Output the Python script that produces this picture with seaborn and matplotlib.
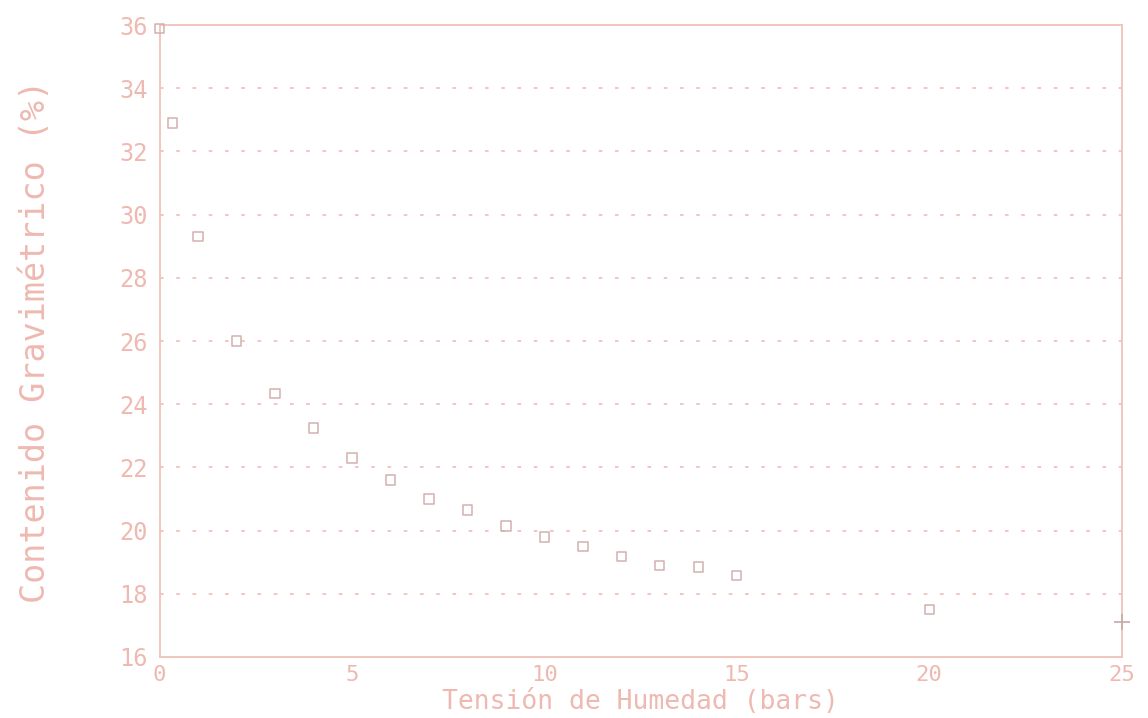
import matplotlib

matplotlib.use("Agg")
import matplotlib.pyplot as plt
import pandas as pd
import seaborn as sns

# values
tension = [0, 0.33, 1, 2, 3, 4, 5, 6, 7, 8, 9, 10, 11, 12, 13, 14, 15, 20]
contenido = [35.9, 32.9, 29.3, 26.0, 24.35, 23.25, 22.3, 21.6, 21.0, 20.65,
             20.15, 19.8, 19.5, 19.17, 18.9, 18.85, 18.57, 17.5]
cruz_x = [25]
cruz_y = [17.1]

x_ticks = [0, 5, 10, 15, 20, 25]
y_ticks = [16, 18, 20, 22, 24, 26, 28, 30, 32, 34, 36]

ink = "#eeb9b1"
grid_ink = "#efc3b8"
mark_ink = "#d2b0ae"

sns.set_style("white")
plt.rcParams["font.family"] = ["DejaVu Sans Mono", "DejaVu Sans"]

df = pd.DataFrame({"tension": tension, "contenido": contenido})

fig = plt.figure(figsize=(11.48, 7.18), dpi=100)
ax = fig.add_axes([0.139, 0.085, 0.838, 0.88])

for y in y_ticks[1:-1]:
    ax.axhline(y, color=grid_ink, lw=1.3, linestyle=(0, (2, 7)), zorder=1)

sns.scatterplot(
    data=df,
    x="tension",
    y="contenido",
    marker="s",
    s=45,
    facecolor="none",
    edgecolor=mark_ink,
    linewidth=1.1,
    ax=ax,
    zorder=3,
    clip_on=False,
)
ax.scatter(cruz_x, cruz_y, marker="+", s=140, color="#c4aaa8", lw=1.2,
           zorder=4, clip_on=False)

ax.set_xlim(0, 25)
ax.set_ylim(16, 36)
ax.set_xticks(x_ticks)
ax.set_yticks(y_ticks)
ax.tick_params(axis="both", colors=grid_ink, labelcolor=ink, labelsize=17,
               direction="inout", length=10, width=1)
ax.tick_params(axis="x", pad=1, labelsize=16)

for side in ["left", "right", "top", "bottom"]:
    ax.spines[side].set_visible(True)
    ax.spines[side].set_color(grid_ink)
    ax.spines[side].set_linestyle((0, (1, 1)))
    ax.spines[side].set_linewidth(1.3)

ax.set_xlabel("Tensión de Humedad (bars)", fontsize=19, color=ink)
ax.xaxis.set_label_coords(0.5, -0.051)
ax.set_ylabel("Contenido Gravimétrico (%)", fontsize=24, color=ink)
ax.yaxis.set_label_coords(-0.112, 0.5)

fig.savefig("out.png", dpi=100)
